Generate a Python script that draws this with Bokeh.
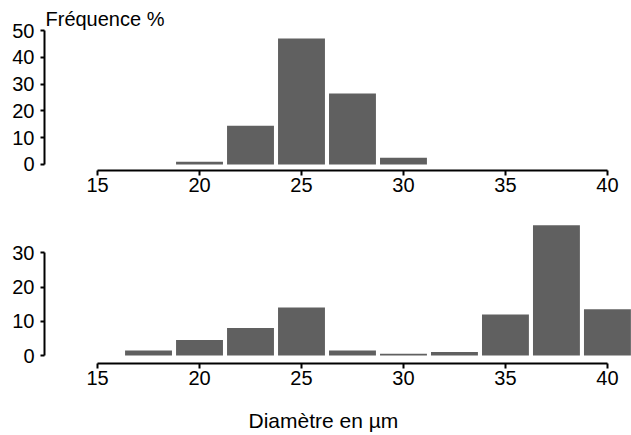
from bokeh.plotting import figure
from bokeh.layouts import column
from bokeh.models import FixedTicker, Range1d, Title
from bokeh.embed import file_html
from bokeh.resources import INLINE

# ---- data ----
x_ticks = [15, 20, 25, 30, 35, 40]
top_centers = [20, 22.5, 25, 27.5, 30]
top_freq = [1, 14.5, 47, 26.5, 2.5]
top_y_ticks = [0, 10, 20, 30, 40, 50]
bottom_centers = [17.5, 20, 22.5, 25, 27.5, 30, 32.5, 35, 37.5, 40]
bottom_freq = [1.5, 4.5, 8, 14, 1.5, 0.5, 1, 12, 38, 13.5]
bottom_y_ticks = [0, 10, 20, 30]
y_title = "Fréquence %"
x_title = "Diamètre en µm"

FONT = "Liberation Sans"
W = 631
X_START, X_END = 12.40, 41.18
BAR_W = 2.3
BAR_COLOR = "#606060"


def make_fig(height, top_border, bottom_border, y_start, y_end, y_ticks,
             centers, freq):
    p = figure(width=W, height=height, output_backend="svg",
               toolbar_location=None,
               x_range=Range1d(X_START, X_END),
               y_range=Range1d(y_start, y_end),
               min_border_left=44, min_border_right=0,
               min_border_top=top_border, min_border_bottom=bottom_border)
    p.outline_line_color = None
    p.grid.visible = False
    p.background_fill_color = "white"
    p.border_fill_color = "white"

    p.vbar(x=centers, top=freq, bottom=0, width=BAR_W,
           fill_color=BAR_COLOR, line_color=None)

    p.xaxis.ticker = FixedTicker(ticks=x_ticks)
    p.xaxis.bounds = (x_ticks[0], x_ticks[-1])
    p.yaxis.ticker = FixedTicker(ticks=y_ticks)
    p.yaxis.bounds = (y_ticks[0], y_ticks[-1])

    for ax in (p.xaxis[0], p.yaxis[0]):
        ax.axis_line_width = 2
        ax.axis_line_color = "black"
        ax.major_tick_line_width = 2
        ax.major_tick_line_color = "black"
        ax.major_tick_in = 0
        ax.minor_tick_line_color = None
        ax.major_label_text_font = FONT
        ax.major_label_text_font_size = "20px"
        ax.major_label_text_color = "black"
    p.xaxis.major_tick_out = 5
    p.xaxis.major_label_standoff = 2
    p.yaxis.major_tick_out = 4
    p.yaxis.major_label_standoff = 6
    return p


top = make_fig(204, 30, 34, -2.24, 50, top_y_ticks, top_centers, top_freq)
bottom = make_fig(231, 14, 72, -2.33, 40, bottom_y_ticks, bottom_centers,
                  bottom_freq)

# spacer between tick labels and the axis title of the lower panel
bottom.xaxis.axis_label = " "
bottom.xaxis.axis_label_text_font_size = "1px"
bottom.xaxis.axis_label_standoff = 11

top.add_layout(Title(text=y_title, align="left", offset=1, standoff=2,
                     text_font=FONT, text_font_size="20px",
                     text_font_style="normal", text_color="black"), "above")
bottom.add_layout(Title(text=x_title, align="left", offset=204, standoff=8,
                        text_font=FONT, text_font_size="21px",
                        text_font_style="normal", text_color="black"),
                  "below")

layout = column(top, bottom, spacing=0)
open("out.html", "w").write(file_html(layout, INLINE))
